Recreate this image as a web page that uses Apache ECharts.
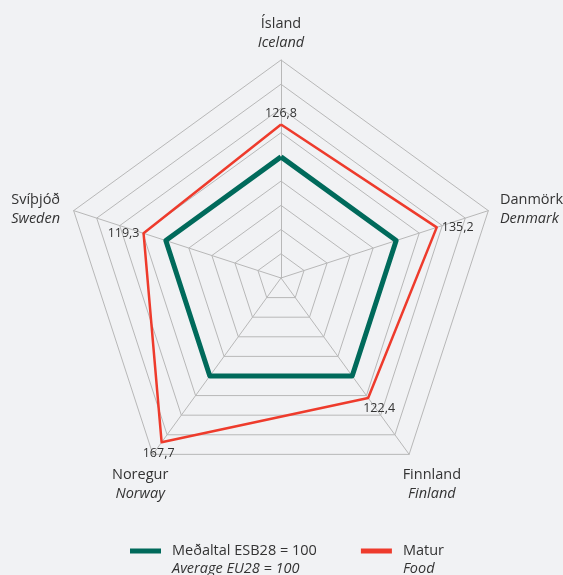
<!DOCTYPE html>
<html>
<head>
<meta charset="utf-8">
<script src="https://cdn.jsdelivr.net/npm/echarts@6/dist/echarts.min.js"></script>
<style>
html,body{margin:0;padding:0;background:#f1f2f4;}
#c{width:563px;height:575px;}
</style>
</head>
<body>
<div id="c"></div>
<script>
// Indicators in ECharts order (counter-clockwise from top)
const namesIs = ['Ísland', 'Svíþjóð', 'Noregur', 'Finnland', 'Danmörk'];
const namesEn = ['Iceland', 'Sweden', 'Norway', 'Finland', 'Denmark'];
const averageValues = [100, 100, 100, 100, 100];
const foodValues = [126.8, 119.3, 167.7, 122.4, 135.2];
const legendIs = ['Meðaltal ESB28 = 100', 'Matur'];
const legendEn = ['Average EU28 = 100', 'Food'];
const seriesNames = ['avg', 'food'];
const axisMax = 180;
const splits = 9;

const FONT = 'Open Sans';
const labelKeys = ['t', 'l', 'b', 'br', 'r'];
// per-indicator name text tweaks
const nameStyles = [
  {},
  {padding: [2, 6, 0, 0]},
  {align: 'center', verticalAlign: 'top', padding: [5, 16, 0, 0]},
  {align: 'center', verticalAlign: 'top', padding: [5, 0, 0, 36]},
  {padding: [2, 0, 0, 4]}
];

const chart = echarts.init(document.getElementById('c'), null, {renderer: 'canvas'});
chart.setOption({
  backgroundColor: '#f1f2f4',
  animation: false,
  legend: {
    left: 130,
    top: 524,
    itemWidth: 31,
    itemHeight: 5,
    itemGap: 44,
    icon: 'rect',
    padding: 0,
    data: seriesNames,
    formatter: function (name) {
      const i = seriesNames.indexOf(name);
      return '{a|' + legendIs[i] + '}\n{b|' + legendEn[i] + '}';
    },
    textStyle: {
      fontFamily: FONT,
      fontSize: 14.5,
      lineHeight: 18,
      padding: [18, 0, 0, 6],
      rich: {
        a: {fontFamily: FONT, fontSize: 14.5, color: '#333', lineHeight: 18},
        b: {fontFamily: FONT, fontSize: 14.5, fontStyle: 'italic', color: '#333', lineHeight: 18}
      }
    }
  },
  radar: {
    center: [281, 278],
    radius: 218,
    startAngle: 90,
    splitNumber: splits,
    shape: 'polygon',
    indicator: namesIs.map(function (n, i) {
      return {name: n, max: axisMax, min: 0, nameTextStyle: nameStyles[i]};
    }),
    axisName: {
      formatter: function (name) {
        const i = namesIs.indexOf(name);
        return '{n|' + name + '}\n{e|' + namesEn[i] + '}';
      },
      rich: {
        n: {fontFamily: FONT, fontSize: 14.5, color: '#333', lineHeight: 19},
        e: {fontFamily: FONT, fontSize: 14.5, fontStyle: 'italic', color: '#333', lineHeight: 19}
      }
    },
    nameGap: 8,
    splitArea: {show: false},
    splitLine: {lineStyle: {color: '#b8b8b8', width: 1}},
    axisLine: {lineStyle: {color: '#b8b8b8', width: 1}}
  },
  series: [{
    type: 'radar',
    data: [{
      name: 'avg',
      value: averageValues,
      symbol: 'none',
      lineStyle: {color: '#006a5b', width: 5},
      itemStyle: {color: '#006a5b'}
    }, {
      name: 'food',
      value: foodValues,
      symbol: 'circle',
      symbolSize: 1,
      lineStyle: {color: '#ee3b2c', width: 2.5},
      itemStyle: {color: '#ee3b2c'},
      label: {
        show: true,
        position: 'inside',
        formatter: function (p) {
          const i = foodValues.indexOf(p.value);
          return '{' + labelKeys[i] + '|' + String(p.value).replace('.', ',') + '}';
        },
        rich: {
          t: {fontFamily: FONT, fontSize: 12.5, color: '#333', padding: [0, 0, 22, 0]},
          l: {fontFamily: FONT, fontSize: 12.5, color: '#333', padding: [0, 40, 0, 0]},
          b: {fontFamily: FONT, fontSize: 12.5, color: '#333', padding: [22, 6, 0, 0]},
          br: {fontFamily: FONT, fontSize: 12.5, color: '#333', padding: [22, 0, 0, 22]},
          r: {fontFamily: FONT, fontSize: 12.5, color: '#333', padding: [0, 0, 0, 42]}
        }
      }
    }]
  }]
});
</script>
</body>
</html>
